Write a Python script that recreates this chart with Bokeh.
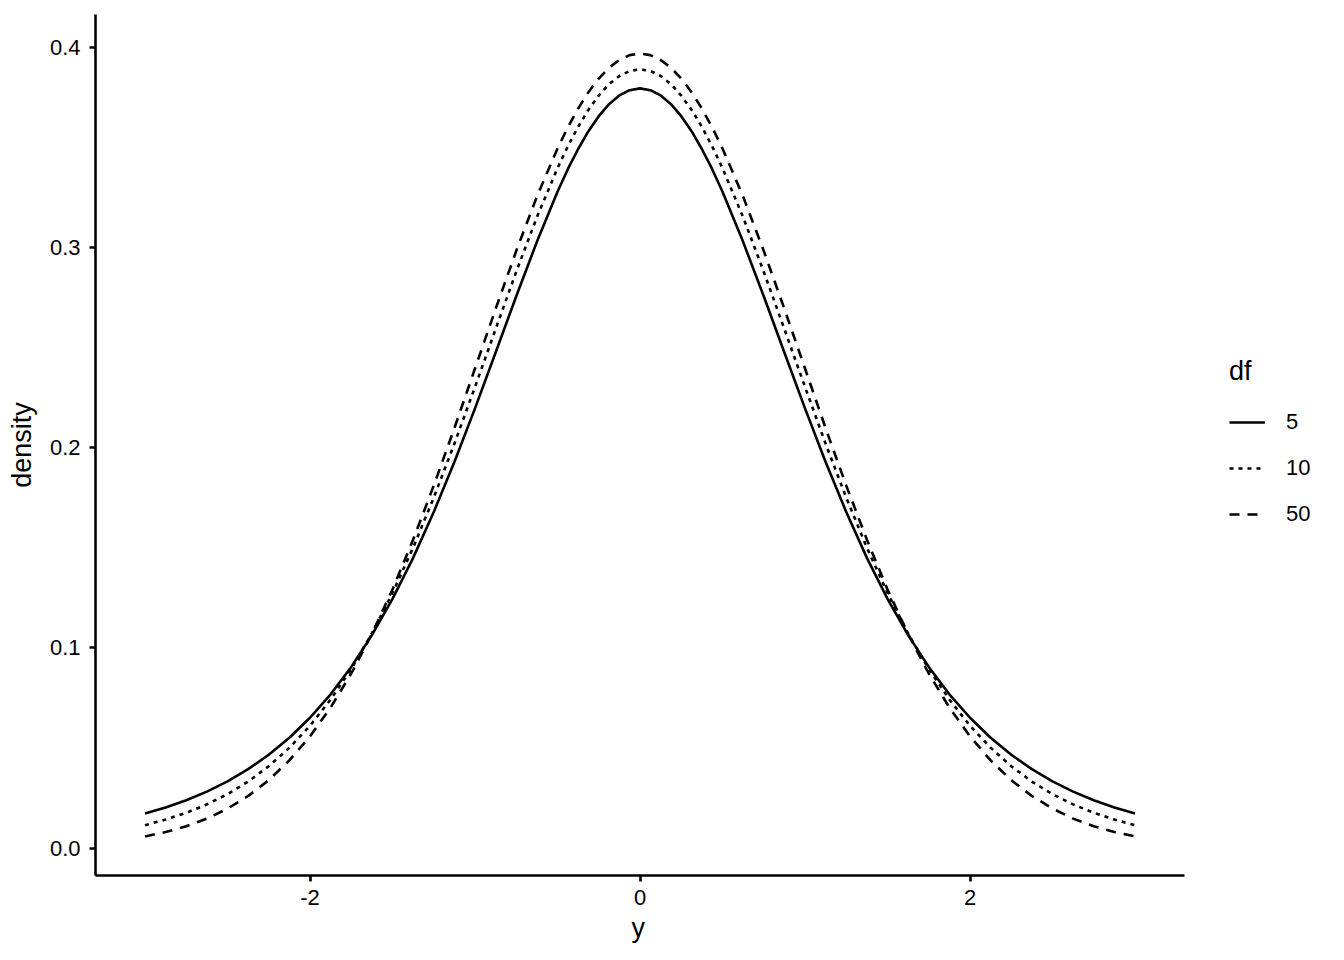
from bokeh.plotting import figure
from bokeh.models import Legend, LegendItem, Range1d, FixedTicker, Title
from bokeh.embed import file_html
from bokeh.resources import INLINE

# x grid (symmetric)
x_half = [0.0, 0.0625, 0.125, 0.1875, 0.25, 0.3125, 0.375, 0.4375, 0.5, 0.625, 0.75,
          0.875, 1.0, 1.125, 1.25, 1.375, 1.5, 1.625, 1.75, 1.875, 2.0, 2.125, 2.25,
          2.375, 2.5, 2.625, 2.75, 2.875, 3.0]
dens_df5 = [0.3796, 0.3787, 0.3761, 0.3717, 0.3657, 0.3582, 0.3493, 0.3392, 0.3279,
            0.3029, 0.2757, 0.2476, 0.2197, 0.1929, 0.1679, 0.1450, 0.1245, 0.1064,
            0.0905, 0.0768, 0.0651, 0.0551, 0.0466, 0.0394, 0.0333, 0.0282, 0.0239,
            0.0203, 0.0173]
dens_df10 = [0.3891, 0.3883, 0.3858, 0.3817, 0.3760, 0.3689, 0.3604, 0.3506, 0.3397,
             0.3152, 0.2880, 0.2593, 0.2304, 0.2020, 0.1751, 0.1501, 0.1274, 0.1072,
             0.0895, 0.0742, 0.0611, 0.0501, 0.0409, 0.0332, 0.0269, 0.0218, 0.0176,
             0.0142, 0.0114]
dens_df50 = [0.3970, 0.3962, 0.3938, 0.3899, 0.3845, 0.3777, 0.3695, 0.3601, 0.3496,
             0.3255, 0.2984, 0.2694, 0.2396, 0.2098, 0.1811, 0.1541, 0.1292, 0.1069,
             0.0872, 0.0702, 0.0558, 0.0438, 0.0339, 0.0260, 0.0197, 0.0147, 0.0109,
             0.0080, 0.0058]
df_labels = ["5", "10", "50"]
x_ticks = [-2, 0, 2]
x_tick_labels = ["-2", "0", "2"]
y_ticks = [0.0, 0.1, 0.2, 0.3, 0.4]
y_tick_labels = ["0.0", "0.1", "0.2", "0.3", "0.4"]

def mirror(xs, ys):
    return [-v for v in xs[:0:-1]] + xs, ys[:0:-1] + ys

FONT = "Liberation Sans"

# frame spans to the right edge so the legend can live inside it;
# the x axis line is bounded to the data panel (-3.3 .. 3.3)
p = figure(width=1336, height=952, output_backend="svg", toolbar_location=None,
           x_range=Range1d(-3.3, 4.1727), y_range=Range1d(-0.01373, 0.41651))
p.min_border_left = 95
p.min_border_top = 14
p.min_border_bottom = 77
p.min_border_right = 8
p.outline_line_color = None
p.xgrid.visible = False
p.ygrid.visible = False
p.background_fill_color = "white"

series = [dens_df5, dens_df10, dens_df50]
dashes = ["solid", "4 5", "10 8"]
items = []
for lab, ys, dash in zip(df_labels, series, dashes):
    xx, yy = mirror(x_half, ys)
    r = p.line(xx, yy, line_color="black", line_width=2.6, line_dash=dash,
               line_join="round")
    items.append(LegendItem(label=lab, renderers=[r]))

for ax in (p.xaxis[0], p.yaxis[0]):
    ax.axis_line_color = "black"
    ax.axis_line_width = 2.6
    ax.major_tick_line_color = "black"
    ax.major_tick_line_width = 2.6
    ax.major_tick_out = 6
    ax.major_tick_in = 0
    ax.minor_tick_line_color = None
    ax.major_label_text_font = FONT
    ax.major_label_text_font_size = "22px"
    ax.major_label_text_color = "black"
    ax.axis_label_text_font = FONT
    ax.axis_label_text_font_size = "27px"
    ax.axis_label_text_font_style = "normal"
    ax.axis_label_text_color = "black"

p.xaxis.bounds = (-3.3, 3.3)
p.xaxis.ticker = FixedTicker(ticks=x_ticks)
p.yaxis.ticker = FixedTicker(ticks=y_ticks)
p.xaxis.major_label_overrides = dict(zip(x_ticks, x_tick_labels))
p.yaxis.major_label_overrides = dict(zip(y_ticks, y_tick_labels))
p.yaxis.axis_label = "density"
p.xaxis.major_label_standoff = 8
p.yaxis.major_label_standoff = 9
p.yaxis.axis_label_standoff = 10

# x axis title centred under the data panel (not the extended frame)
xt = Title(text="y", align="left", offset=536, text_font=FONT,
           text_font_size="27px", text_font_style="normal", text_color="black",
           standoff=7)
p.add_layout(xt, "below")

legend = Legend(items=items, title="df", location=(1134, 341))
legend.title_text_font = FONT
legend.title_text_font_size = "27px"
legend.title_text_font_style = "normal"
legend.title_standoff = 15
legend.label_text_font = FONT
legend.label_text_font_size = "22px"
legend.label_text_color = "black"
legend.title_text_color = "black"
legend.border_line_color = None
legend.background_fill_alpha = 0
legend.glyph_width = 36
legend.glyph_height = 40
legend.label_height = 40
legend.label_standoff = 21
legend.spacing = 6
legend.padding = 0
legend.margin = 0
p.add_layout(legend, "center")

open("out.html", "w").write(file_html(p, INLINE))
